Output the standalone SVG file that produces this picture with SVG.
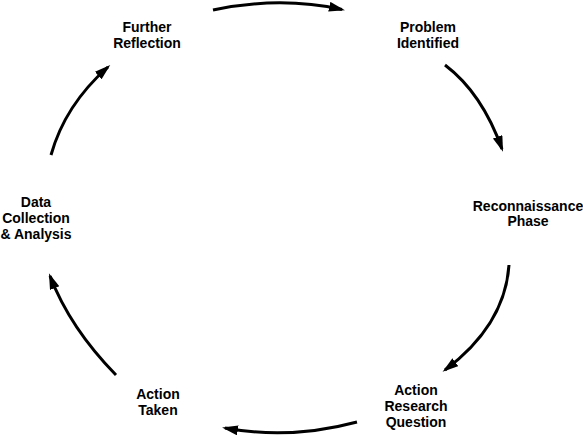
<svg xmlns="http://www.w3.org/2000/svg" width="583" height="435" viewBox="0 0 583 435">
<defs>
<marker id="ah" markerWidth="18" markerHeight="12" refX="13" refY="5" orient="auto" markerUnits="userSpaceOnUse">
<path d="M0,0 L16,5 L0,10 z" fill="#000"/>
</marker>
<style>
.lbl{font-family:"Liberation Sans",Arial,sans-serif;font-weight:bold;font-size:14px;fill:#000;text-anchor:middle}
.arc{fill:none;stroke:#000;stroke-width:3;marker-end:url(#ah)}
</style>
</defs>
<rect width="583" height="435" fill="#fff"/>
<g id="connectors">
<path class="arc" d="M213,10 Q280,-4 342,9.5"/>
<path class="arc" d="M445,65 Q482,93 502,149"/>
<path class="arc" d="M509,265 Q505,325 445,370"/>
<path class="arc" d="M357,422 Q290,440 225,428"/>
<path class="arc" d="M116,375 Q70,328 50,276"/>
<path class="arc" d="M51,155 Q65,105 108,67"/>
</g>
<g id="further-reflection"><text class="lbl" x="147" y="32">Further</text><text class="lbl" x="147" y="48">Reflection</text></g>
<g id="problem-identified"><text class="lbl" x="428" y="32">Problem</text><text class="lbl" x="428" y="48">Identified</text></g>
<g id="reconnaissance-phase"><text class="lbl" x="528" y="211">Reconnaissance</text><text class="lbl" x="528" y="226">Phase</text></g>
<g id="action-research-question"><text class="lbl" x="416" y="395">Action</text><text class="lbl" x="416" y="411">Research</text><text class="lbl" x="416" y="427">Question</text></g>
<g id="action-taken"><text class="lbl" x="158" y="399">Action</text><text class="lbl" x="158" y="415">Taken</text></g>
<g id="data-collection"><text class="lbl" x="36" y="207">Data</text><text class="lbl" x="36" y="223">Collection</text><text class="lbl" x="36" y="239">&amp; Analysis</text></g>
</svg>
